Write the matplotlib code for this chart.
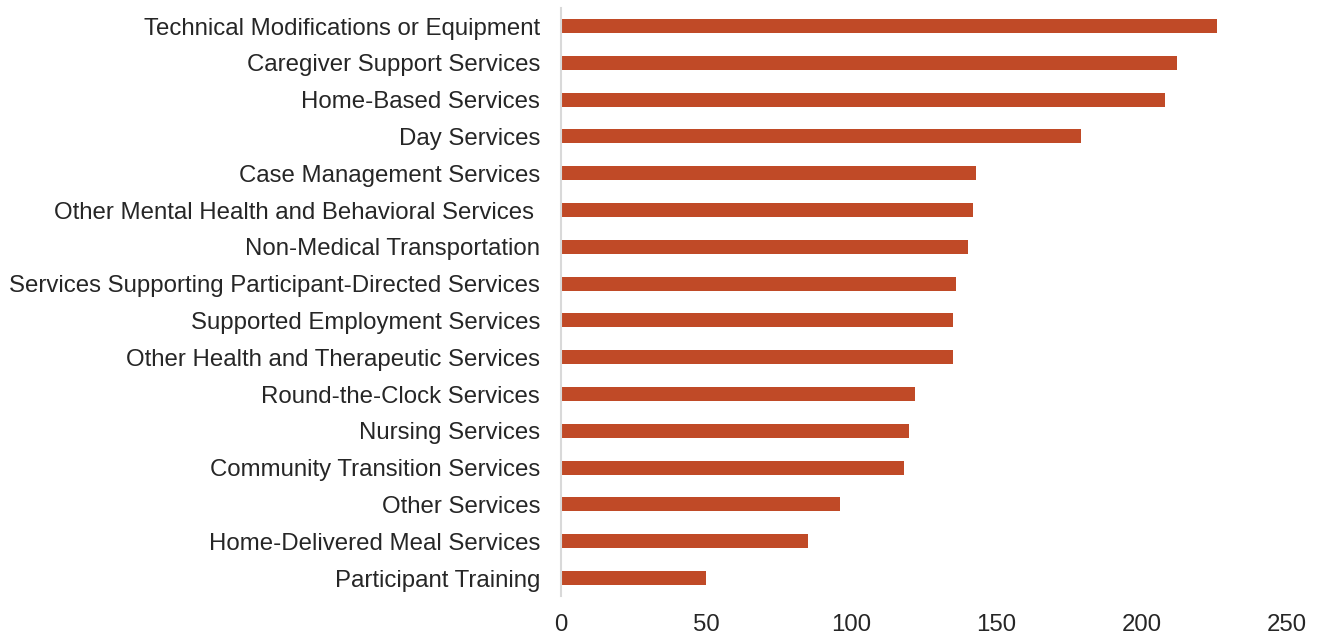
import matplotlib.pyplot as plt

categories = [
    "Technical Modifications or Equipment",
    "Caregiver Support Services",
    "Home-Based Services",
    "Day Services",
    "Case Management Services",
    "Other Mental Health and Behavioral Services ",
    "Non-Medical Transportation",
    "Services Supporting Participant-Directed Services",
    "Supported Employment Services",
    "Other Health and Therapeutic Services",
    "Round-the-Clock Services",
    "Nursing Services",
    "Community Transition Services",
    "Other Services",
    "Home-Delivered Meal Services",
    "Participant Training",
]
values = [226, 212, 208, 179, 143, 142, 140, 136, 135, 135, 122, 120, 118, 96, 85, 50]
xticks = [0, 50, 100, 150, 200, 250]

plt.rcParams["font.family"] = ["Liberation Sans", "DejaVu Sans"]

fig = plt.figure(figsize=(13.19, 6.37), dpi=100)
ax = fig.add_axes([0.4253, 0.0637, 0.5504, 0.9243])

pos = list(range(len(categories)))
ax.barh(pos, values, height=0.38, color="#C04A27")
ax.set_yticks(pos)
ax.set_yticklabels(categories, fontsize=17.25, color="#262626")
ax.set_ylim(len(categories) - 0.5, -0.5)
ax.set_xlim(0, 250)
ax.set_xticks(xticks)
ax.set_xticklabels([str(t) for t in xticks], fontsize=17.25, color="#262626")
ax.tick_params(axis="both", length=0)
ax.tick_params(axis="y", pad=15)
ax.tick_params(axis="x", pad=13)

for side in ("top", "right", "bottom"):
    ax.spines[side].set_visible(False)
ax.spines["left"].set_color("#D9D9D9")
ax.spines["left"].set_linewidth(1.5)

fig.savefig("out.png", dpi=100)
